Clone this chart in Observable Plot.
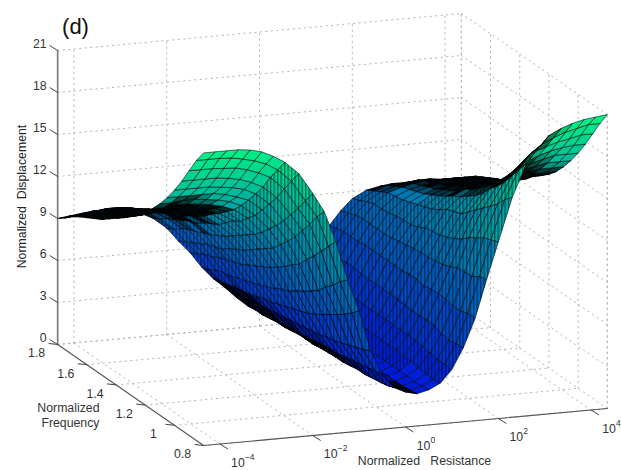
<!DOCTYPE html>
<html><head><meta charset="utf-8">
<style>html,body{margin:0;padding:0;background:#fff}svg{display:block}</style>
<script src="https://cdn.jsdelivr.net/npm/d3@7"></script>
<script src="https://cdn.jsdelivr.net/npm/@observablehq/plot@0.6"></script>
</head><body><div id="chart"></div>
<script>
const logR=[-4.35,-4.1,-3.85,-3.6,-3.35,-3.1,-2.85,-2.6,-2.3,-2,-1.75,-1.5,-1.25,-1,-.75,-.5,-.25,0,.25,.5,.75,1,1.25,1.5,1.75,2,2.3,2.6,2.85,3.1,3.35,3.6,3.85,4.1,4.35];
const freq=[1.8,1.75,1.7,1.65,1.6,1.55,1.5,1.45,1.4,1.35,1.3,1.25,1.2,1.15,1.1,1.05,1,.95,.9,.85,.8];
const z180=[9,9.1,9.2,9.3,9.3,9.2,9.1,8.9,8.4,7.6,6.6,5.7,4.6,3.7,3,2.2,1.5,1.2,1.4,2,3,3.9,5.3,6.7,7.7,8.5,9,9.2,9.3,9.3,9.3,9.2,9.2,9.2,9.2];
const z175=[9.4,9.5,9.6,9.7,9.7,9.6,9.5,9.3,8.7,7.9,6.9,6,4.8,3.9,3.1,2.3,1.6,1.3,1.5,2.1,3,4,5.4,6.9,7.9,8.7,9.3,9.6,9.6,9.7,9.7,9.6,9.6,9.6,9.6];
const z170=[9.85,9.9,10.1,10.2,10.2,10.1,9.9,9.7,9.1,8.3,7.2,6.3,5.1,4,3.2,2.4,1.6,1.3,1.5,2.1,3.1,4,5.5,7,8.1,9,9.6,9.9,10.1,10.2,10.2,10.1,10.1,10.1,10.1];
const z165=[10.2,10.3,10.4,10.5,10.5,10.4,10.3,10.1,9.4,8.6,7.5,6.5,5.3,4.2,3.3,2.4,1.7,1.4,1.5,2.1,3.1,4,5.5,7,8.2,9.2,9.9,10.2,10.4,10.5,10.5,10.5,10.5,10.4,10.4];
const z160=[10.5,10.6,10.7,10.8,10.8,10.7,10.5,10.3,9.7,8.8,7.8,6.8,5.4,4.3,3.4,2.5,1.8,1.4,1.6,2.1,3.1,4,5.6,7,8.2,9.2,10,10.4,10.6,10.7,10.7,10.7,10.7,10.7,10.7];
const z155=[10.8,10.9,11,11.1,11.1,11,10.8,10.5,10,9.1,8,7,5.6,4.4,3.5,2.6,1.8,1.5,1.6,2.2,3.1,4.1,5.6,7.1,8.2,9.3,10.1,10.6,10.85,11,11,11,11,11,11];
const z150=[11.1,11.2,11.3,11.4,11.3,11.2,11.05,10.8,10.2,9.3,8.2,7.2,5.8,4.6,3.6,2.6,1.9,1.5,1.7,2.2,3.1,4,5.5,7.1,8.2,9.4,10.3,10.8,11.1,11.2,11.2,11.2,11.2,11.2,11.2];
const z145=[11.5,11.6,11.7,11.8,11.7,11.6,11.4,11.2,10.6,9.6,8.6,7.4,6,4.8,3.7,2.7,2,1.6,1.8,2.3,3.2,4.1,5.5,7.1,8.3,9.5,10.5,11.1,11.4,11.6,11.6,11.6,11.6,11.6,11.6];
const z140=[11.9,11.95,12,12.1,12.05,11.95,11.8,11.5,10.9,9.9,8.9,7.7,6.2,4.9,3.8,2.8,2,1.65,1.8,2.2,3.1,4.1,5.5,7.1,8.4,9.5,10.7,11.4,11.7,11.85,11.9,12,12,12,12];
const z135=[12.3,12.35,12.4,12.5,12.4,12.3,12.1,11.9,11.2,10.3,9.2,8,6.4,5.1,3.9,2.8,2,1.7,1.8,2.3,3.1,4.1,5.5,7.1,8.5,9.7,10.9,11.7,12,12.2,12.3,12.35,12.4,12.45,12.45];
const z130=[12.8,12.8,12.9,13,12.9,12.8,12.6,12.4,11.7,10.7,9.6,8.3,6.7,5.3,4,2.9,2.1,1.75,1.85,2.3,3.1,4.1,5.5,7.1,8.6,10,11.2,12.1,12.5,12.7,12.8,12.85,12.9,13,13];
const z125=[13.3,13.3,13.4,13.5,13.4,13.3,13.1,12.8,12.2,11.1,10,8.6,7,5.5,4.1,3,2.15,1.8,1.9,2.3,3.1,4.1,5.45,7.2,8.7,10.1,11.6,12.4,12.85,13.1,13.25,13.3,13.35,13.4,13.4];
const z120=[13.8,13.8,13.9,13.9,13.9,13.7,13.6,13.3,12.5,11.5,10.4,9,7.2,5.7,4.2,3.1,2.2,1.9,1.95,2.3,3.1,4.1,5.4,7.2,8.7,10.2,11.8,12.8,13.3,13.6,13.7,13.75,13.8,13.85,13.85];
const z115=[14.4,14.4,14.5,14.5,14.4,14.3,14.1,13.8,13.1,12,10.8,9.4,7.6,5.9,4.3,3.2,2.2,1.95,2,2.35,3.1,4.1,5.4,7.1,8.8,10.4,12,13.2,13.8,14.1,14.2,14.3,14.4,14.4,14.4];
const z110=[15.1,15.1,15.2,15.2,15.1,15,14.8,14.45,13.65,12.6,11.4,9.9,7.9,6.2,4.5,3.2,2.3,2,2.05,2.4,3.1,4.1,5.4,7.2,8.9,10.7,12.5,13.7,14.3,14.7,14.9,15,15.1,15.1,15.1];
const z105=[15.9,15.9,15.9,15.9,15.9,15.75,15.5,15.2,14.4,13.2,12,10.3,8.3,6.55,4.6,3.35,2.4,2.05,2.1,2.4,3.05,4.05,5.45,7.25,9.1,11,13,14.4,15,15.4,15.6,15.75,15.9,15.9,15.9];
const z100=[16.8,16.8,16.8,16.8,16.7,16.6,16.4,16,15.2,13.9,12.7,11,8.7,6.9,4.8,3.5,2.4,2.1,2.15,2.4,3,4,5.4,7.2,9.4,11.5,13.5,14.95,15.7,16.2,16.4,16.6,16.8,16.8,16.8];
const z095=[17.8,17.8,17.8,17.8,17.7,17.55,17.25,16.85,16,14.7,13.5,11.6,9.3,7.25,5,3.55,2.5,2.2,2.1,2.4,2.9,3.9,5.2,7.1,9.45,11.8,14,15.6,16.5,17,17.3,17.55,17.7,17.8,17.8];
const z090=[18.9,18.9,18.9,18.85,18.8,18.6,18.3,17.9,17,15.5,14.3,12.3,9.8,7.65,5.2,3.7,2.6,2.3,2.15,2.35,2.85,3.8,5.1,7.1,9.5,12.2,14.5,16.4,17.4,18,18.3,18.55,18.7,18.9,18.9];
const z085=[20,20,20,19.95,19.8,19.6,19.3,18.8,17.9,16.4,15.2,13,10.4,8.1,5.4,3.8,2.7,2.4,2.2,2.4,2.8,3.8,5.2,7.3,9.85,12.4,15.2,17.2,18.3,18.9,19.3,19.6,19.8,20,20];
const z080=[20.9,20.9,20.9,20.9,20.8,20.6,20.2,19.7,18.8,17.3,15.9,13.7,10.9,8.6,5.7,3.9,2.9,2.5,2.3,2.5,2.9,3.8,5.3,7.3,10,12.6,15.7,18,19,19.9,20.3,20.6,20.8,20.9,21];
const zRows=[z180,z175,z170,z165,z160,z155,z150,z145,z140,z135,z130,z125,z120,z115,z110,z105,z100,z095,z090,z085,z080];

const zTicks=[0,3,6,9,12,15,18,21];
const fTicks=[1.8,1.6,1.4,1.2,1,.8];
const rTicks=[-4,-2,0,2,4];
const rMin=-4.35,rMax=4.35,fMin=.8,fMax=1.8,zMax=21;

// fixed oblique view of the box (R, f, z) -> page position
const px=(r,f)=>405+46.4*r-146*(f-.8);
const py=(r,f,z)=>426.5-4.25*r-101*(f-.8)-14*z;
const P=(r,f,z)=>({x:px(r,f),y:py(r,f,z)});

// surface cells, back to front
const verts=[],steep=[],shade=[];let id=0;
for(let i=0;i<freq.length-1;i++){
  for(let j=logR.length-1;j>0;j--){
    const a=zRows[i][j],b=zRows[i][j-1],c=zRows[i+1][j-1],d=zRows[i+1][j];
    const h=(a+b+c+d)/4;
    const corner=[[i,j],[i,j-1],[i+1,j-1],[i+1,j],[i,j]];
    const pts=corner.map(([m,n])=>P(logR[n],freq[m],zRows[m][n]));
    for(const p of pts) verts.push({...p,cell:id,h});
    steep.push(Math.abs(a-b)+Math.abs(c-d)>1.1);
    // a cell seen edge-on packs its mesh lines together and reads as black
    let area=0;
    for(let k=0;k<4;k++) area+=pts[k].x*pts[k+1].y-pts[k+1].x*pts[k].y;
    area=Math.abs(area)/2;
    shade.push(Math.min(.98,Math.max(0,(70-area)/36)));
    id++;
  }
}
// dotted box grid
const grid=[];let g=0;
const seg=(p,q)=>{grid.push({...p,g},{...q,g});g++;};
for(const z of zTicks){
  seg(P(rMin,fMax,z),P(rMax,fMax,z));
  seg(P(rMax,fMax,z),P(rMax,fMin,z));
}
for(const r of rTicks){
  seg(P(r,fMax,0),P(r,fMax,zMax));
  seg(P(r,fMin,0),P(r,fMax,0));
}
for(const f of fTicks){
  seg(P(rMax,f,0),P(rMax,f,zMax));
  seg(P(rMin,f,0),P(rMax,f,0));
}
seg(P(rMax,fMax,0),P(rMax,fMax,zMax));
seg(P(rMax,fMin,0),P(rMax,fMin,zMax));

const ink="#333";
const ts={fontFamily:"Liberation Sans, Arial, sans-serif",fontSize:12.3,fill:ink};
const plot=Plot.plot({
  width:621,height:470,margin:0,
  x:{domain:[0,621],range:[0,621],axis:null},
  y:{domain:[0,470],range:[0,470],axis:null},
  color:{type:"linear",domain:[0,21],range:["#0000e4","#00f484"]},
  marks:[
    Plot.line(grid,{x:"x",y:"y",z:"g",stroke:"#b4b4b4",strokeWidth:1,strokeDasharray:"1.3,4.2"}),
    Plot.line(verts,{x:"x",y:"y",z:"cell",fill:"h",stroke:"#000",strokeWidth:.55}),
    // axes
    Plot.line([P(rMin,fMax,0),P(rMin,fMax,zMax)],{x:"x",y:"y",stroke:"#777",strokeWidth:1.6}),
    Plot.line([P(rMin,fMax,0),P(rMin,fMin,0)],{x:"x",y:"y",stroke:"#555",strokeWidth:1.1}),
    Plot.line([P(rMin,fMin,0),P(rMax,fMin,0)],{x:"x",y:"y",stroke:"#555",strokeWidth:1.1}),
    // ticks
    Plot.link(zTicks,{x1:z=>px(rMin,fMax),y1:z=>py(rMin,fMax,z),x2:z=>px(rMin,fMax)-8,y2:z=>py(rMin,fMax,z)-5,stroke:"#444"}),
    Plot.link(fTicks,{x1:f=>px(rMin,f),y1:f=>py(rMin,f,0),x2:f=>px(rMin,f)-9,y2:f=>py(rMin,f,0)-1,stroke:"#444"}),
    Plot.link(rTicks,{x1:r=>px(r,fMin),y1:r=>py(r,fMin,0),x2:r=>px(r,fMin)+8,y2:r=>py(r,fMin,0)+5,stroke:"#444"}),
    // tick labels
    Plot.text(zTicks,{x:z=>px(rMin,fMax),y:z=>py(rMin,fMax,z),text:z=>String(z),textAnchor:"end",dx:-11,dy:-6,...ts}),
    Plot.text(fTicks,{x:f=>px(rMin,f),y:f=>py(rMin,f,0),text:f=>String(f),textAnchor:"middle",dx:-21,dy:9,...ts}),
    Plot.text(rTicks,{x:r=>px(r,fMin),y:r=>py(r,fMin,0),text:()=>"10",textAnchor:"middle",dx:18,dy:19,...ts}),
    Plot.text(rTicks,{x:r=>px(r,fMin),y:r=>py(r,fMin,0),text:r=>String(r).replace("-","\u2212"),textAnchor:"start",dx:25,dy:13,...ts,fontSize:8.5}),
    // titles
    Plot.text(["(d)"],{x:()=>75,y:()=>26,text:d=>d,...ts,fill:"#111",fontSize:22}),
    Plot.text(["Normalized\u00a0\u00a0Displacement"],{x:()=>22,y:()=>196,text:d=>d,rotate:-90,...ts,fontSize:12.3,fill:"#222"}),
    Plot.text(["Normalized"],{x:()=>99,y:()=>408,text:d=>d,textAnchor:"end",...ts}),
    Plot.text(["Frequency"],{x:()=>99,y:()=>423,text:d=>d,textAnchor:"end",...ts}),
    Plot.text(["Normalized\u00a0\u00a0\u00a0Resistance"],{x:()=>424,y:()=>461,text:d=>d,...ts})
  ]
});
// dense constant-frequency ruling on the steep faces, and edge-on darkening
const svg=d3.select(plot);
const defs=svg.insert("defs",":first-child");
const pat=defs.append("pattern").attr("id","rule").attr("patternUnits","userSpaceOnUse").attr("width",3.5).attr("height",4);
pat.append("rect").attr("width",1.3).attr("height",4).attr("fill","#000").attr("fill-opacity",.5);
plot.querySelectorAll('path[fill^="rgb"]').forEach((el,k)=>{
  let after=el;
  if(shade[k]>0){
    const s=el.cloneNode(false);
    s.setAttribute("fill","#000");s.setAttribute("fill-opacity",shade[k]);s.setAttribute("stroke","#000");s.setAttribute("stroke-opacity",shade[k]);
    el.parentNode.insertBefore(s,after.nextSibling);after=s;
  }
  if(steep[k]){
    const c=el.cloneNode(false);
    c.setAttribute("fill","url(#rule)");c.setAttribute("stroke","none");
    el.parentNode.insertBefore(c,after.nextSibling);
  }
});
document.getElementById("chart").append(plot);
</script></body></html>
